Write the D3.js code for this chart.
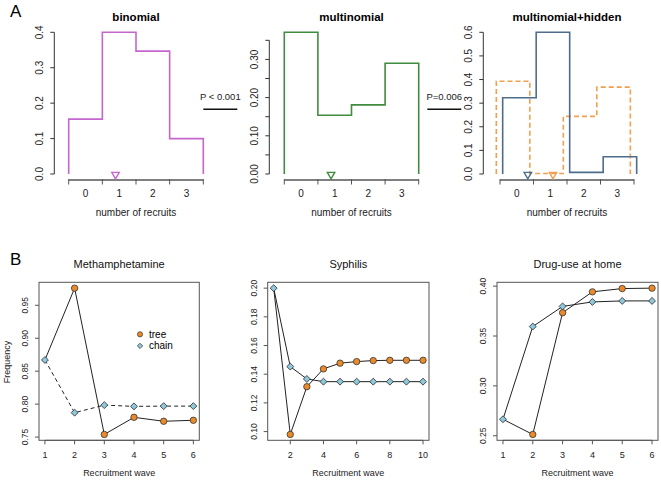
<!DOCTYPE html>
<html>
<head>
<meta charset="utf-8">
<script src="https://cdn.jsdelivr.net/npm/d3@7"></script>
<style>
  body { margin: 0; background: #fff; }
  svg { font-family: "Liberation Sans", Arial, sans-serif; }
</style>
</head>
<body>
<svg id="chart" width="661" height="480"></svg>
<script>
// ---- panel A data: distribution of number of recruits
const recruitBins = ['0', '1', '2', '3'];
const binomialFreq = [0.155, 0.400, 0.347, 0.100];
const multinomialFreq = [0.371, 0.154, 0.181, 0.290];
const hiddenSolidFreq = [0.323, 0.600, 0.007, 0.073];
const hiddenDashedFreq = [0.393, 0.002, 0.244, 0.368];
const binomialTicks = [0, 0.1, 0.2, 0.3, 0.4];
const multinomialTicks = [0, 0.05, 0.10, 0.15, 0.20, 0.25, 0.30, 0.35];
const hiddenTicks = [0, 0.1, 0.2, 0.3, 0.4, 0.5, 0.6];

// ---- panel B data: frequency by recruitment wave
const methWaves = [1, 2, 3, 4, 5, 6];
const methTree = [0.867, 0.976, 0.754, 0.780, 0.774, 0.7755];
const methChain = [0.867, 0.787, 0.7985, 0.7966, 0.797, 0.797];
const syphWaves = [1, 2, 3, 4, 5, 6, 7, 8, 9, 10];
const syphTree = [0.200, 0.098, 0.1313, 0.1437, 0.1477, 0.1488, 0.1495, 0.1497, 0.1497, 0.1497];
const syphChain = [0.200, 0.1453, 0.1367, 0.1348, 0.1348, 0.1348, 0.1348, 0.1348, 0.1348, 0.1348];
const drugWaves = [1, 2, 3, 4, 5, 6];
const drugTree = [0.2665, 0.2513, 0.3734, 0.3943, 0.3976, 0.398];
const drugChain = [0.2665, 0.3595, 0.3797, 0.3842, 0.3852, 0.3852];
const methYTicks = [0.75, 0.80, 0.85, 0.90, 0.95];
const syphYTicks = [0.10, 0.12, 0.14, 0.16, 0.18, 0.20];
const drugYTicks = [0.25, 0.30, 0.35, 0.40];
const syphXTicks = [2, 4, 6, 8, 10];

const svg = d3.select('#chart');

const colTree = '#e98b2b', colChain = '#8ec8dc';

// --------------------------------------------------
// panel A helpers

function histPanel(opt)
{
  let g = svg.append('g');
  let x = d3.scaleLinear().domain([0, recruitBins.length]).range([opt.x0, opt.x1]);
  let maxV = d3.max(opt.series, s => d3.max(s.values));
  let y = d3.scaleLinear().domain([0, maxV]).range([174, 32.3]);

  // y axis
  let yt = opt.ticks;
  g.append('line')
    .attr('x1', opt.yAxisX).attr('x2', opt.yAxisX)
    .attr('y1', y(yt[0])).attr('y2', y(yt[yt.length - 1]))
    .attr('stroke', '#333').attr('stroke-width', 1);
  yt.forEach((t, i) =>
  {
    g.append('line')
      .attr('x1', opt.yAxisX - 4).attr('x2', opt.yAxisX)
      .attr('y1', y(t)).attr('y2', y(t))
      .attr('stroke', '#333');
    if (opt.labelEvery && i % opt.labelEvery) return;
    g.append('text')
      .attr('transform', `translate(${opt.yAxisX - 11},${y(t)}) rotate(-90)`)
      .attr('text-anchor', 'middle')
      .attr('font-size', 10).attr('fill', '#222')
      .text(d3.format(opt.fmt)(t));
  });

  // x axis (gray)
  g.append('line')
    .attr('x1', x(0)).attr('x2', x(recruitBins.length))
    .attr('y1', 180).attr('y2', 180)
    .attr('stroke', '#808080').attr('stroke-width', 2);
  d3.range(recruitBins.length + 1).forEach(i =>
  {
    g.append('line')
      .attr('x1', x(i)).attr('x2', x(i))
      .attr('y1', 179).attr('y2', 184.5)
      .attr('stroke', '#555').attr('stroke-width', 1);
  });
  recruitBins.forEach((b, i) =>
  {
    g.append('text')
      .attr('x', x(i + 0.5)).attr('y', 196.5)
      .attr('text-anchor', 'middle')
      .attr('font-size', 10).attr('fill', '#222')
      .text(b);
  });

  // histogram outlines
  let line = d3.line().x(d => x(d[0])).y(d => y(d[1]));
  opt.series.forEach(s =>
  {
    let pts = [[s.offset, 0]];
    s.values.forEach((v, i) =>
    {
      pts.push([i + s.offset, v], [i + 1 + s.offset, v]);
    });
    pts.push([recruitBins.length + s.offset, 0]);
    g.append('path')
      .attr('d', line(pts))
      .attr('fill', 'none')
      .attr('stroke', s.color)
      .attr('stroke-width', 1.6)
      .attr('stroke-dasharray', s.dash || null);
  });

  // triangles at mean
  opt.series.forEach(s =>
  {
    let mean = d3.sum(s.values, (v, i) => v * i) / d3.sum(s.values);
    g.append('path')
      .attr('d', d3.symbol(d3.symbolTriangle, 24)())
      .attr('transform', `translate(${x(mean)},${y(0) + 0.5}) rotate(180)`)
      .attr('fill', 'none')
      .attr('stroke', s.color)
      .attr('stroke-width', 1.4);
  });

  g.append('text')
    .attr('x', (opt.x0 + opt.x1) / 2).attr('y', 20.5)
    .attr('text-anchor', 'middle')
    .attr('font-size', 11.5).attr('font-weight', 'bold')
    .text(opt.title);

  g.append('text')
    .attr('x', (opt.x0 + opt.x1) / 2).attr('y', 215.5)
    .attr('text-anchor', 'middle')
    .attr('font-size', 10).attr('fill', '#222')
    .text('number of recruits');
}

histPanel({
  title: 'binomial', x0: 68.7, x1: 203.3, yAxisX: 54.3,
  ticks: binomialTicks, fmt: '.1f',
  series: [{ values: binomialFreq, color: '#c566cf', offset: 0 }]
});

histPanel({
  title: 'multinomial', x0: 284.3, x1: 418.7, yAxisX: 269.3,
  ticks: multinomialTicks, fmt: '.2f', labelEvery: 2,
  series: [{ values: multinomialFreq, color: '#3f8c3f', offset: 0 }]
});

histPanel({
  title: 'multinomial+hidden', x0: 500, x1: 634, yAxisX: 483.3,
  ticks: hiddenTicks, fmt: '.1f',
  series: [
    { values: hiddenDashedFreq, color: '#f0a050', offset: -0.11, dash: '5,3' },
    { values: hiddenSolidFreq, color: '#4e6d8c', offset: 0.08 }
  ]
});

// p-values between panels
[['P < 0.001', 220.3, 203.3, 237.3], ['P=0.006', 444.3, 427.3, 461.3]]
.forEach(function (p)
{
  svg.append('text')
    .attr('x', p[1]).attr('y', 100)
    .attr('text-anchor', 'middle')
    .attr('font-size', 9.5).attr('fill', '#222')
    .text(p[0]);
  svg.append('line')
    .attr('x1', p[2]).attr('x2', p[3])
    .attr('y1', 109.3).attr('y2', 109.3)
    .attr('stroke', '#111').attr('stroke-width', 1.5);
});

// --------------------------------------------------
// panel B helpers

function padded(vals)
{
  let lo = d3.min(vals), hi = d3.max(vals), r = hi - lo;
  return [lo - 0.04 * r, hi + 0.04 * r];
}

function wavePanel(opt)
{
  let g = svg.append('g');
  let top = 282.3, bottom = 440.3;
  let x = d3.scaleLinear().domain(padded(opt.waves)).range([opt.x0, opt.x1]);
  let y = d3.scaleLinear().domain(padded(opt.tree.concat(opt.chain))).range([bottom, top]);

  g.append('rect')
    .attr('x', opt.x0).attr('y', top)
    .attr('width', opt.x1 - opt.x0).attr('height', bottom - top)
    .attr('fill', 'none').attr('stroke', '#555').attr('stroke-width', 1);

  // x axis
  let xt = opt.xTicks;
  g.append('line')
    .attr('x1', x(xt[0])).attr('x2', x(xt[xt.length - 1]))
    .attr('y1', bottom).attr('y2', bottom)
    .attr('stroke', '#555');
  xt.forEach(t =>
  {
    g.append('line')
      .attr('x1', x(t)).attr('x2', x(t))
      .attr('y1', bottom).attr('y2', bottom + 4)
      .attr('stroke', '#555');
    g.append('text')
      .attr('x', x(t)).attr('y', 458)
      .attr('text-anchor', 'middle')
      .attr('font-size', 9).attr('fill', '#222')
      .text(t);
  });

  // y axis
  opt.yTicks.forEach(t =>
  {
    g.append('line')
      .attr('x1', opt.x0 - 4).attr('x2', opt.x0)
      .attr('y1', y(t)).attr('y2', y(t))
      .attr('stroke', '#555');
    g.append('text')
      .attr('transform', `translate(${opt.x0 - 11},${y(t)}) rotate(-90)`)
      .attr('text-anchor', 'middle')
      .attr('font-size', 8.5).attr('fill', '#222')
      .text(d3.format('.2f')(t));
  });

  let line = d3.line().x((d, i) => x(opt.waves[i])).y(d => y(d));
  g.append('path')
    .attr('d', line(opt.tree))
    .attr('fill', 'none').attr('stroke', '#222').attr('stroke-width', 1);
  g.append('path')
    .attr('d', line(opt.chain))
    .attr('fill', 'none').attr('stroke', '#222').attr('stroke-width', 1)
    .attr('stroke-dasharray', opt.chainDash || null);

  // tree points (wave 1 sits under the chain diamond)
  opt.tree.forEach((v, i) =>
  {
    if (i === 0) return;
    g.append('circle')
      .attr('cx', x(opt.waves[i])).attr('cy', y(v)).attr('r', 3.2)
      .attr('fill', colTree).attr('stroke', '#333').attr('stroke-width', 0.8);
  });
  opt.chain.forEach((v, i) =>
  {
    g.append('path')
      .attr('d', d3.symbol(d3.symbolSquare, 24)())
      .attr('transform', `translate(${x(opt.waves[i])},${y(v)}) rotate(45)`)
      .attr('fill', colChain).attr('stroke', '#333').attr('stroke-width', 0.8);
  });

  g.append('text')
    .attr('x', (opt.x0 + opt.x1) / 2).attr('y', 267.5)
    .attr('text-anchor', 'middle')
    .attr('font-size', 11).attr('fill', '#111')
    .text(opt.title);
  g.append('text')
    .attr('x', (opt.x0 + opt.x1) / 2).attr('y', 476)
    .attr('text-anchor', 'middle')
    .attr('font-size', 9).attr('fill', '#222')
    .text('Recruitment wave');
}

wavePanel({
  title: 'Methamphetamine', x0: 39, x1: 199.3,
  waves: methWaves, tree: methTree, chain: methChain,
  xTicks: methWaves, yTicks: methYTicks, chainDash: '4,3'
});
wavePanel({
  title: 'Syphilis', x0: 267.7, x1: 429,
  waves: syphWaves, tree: syphTree, chain: syphChain,
  xTicks: syphXTicks, yTicks: syphYTicks
});
wavePanel({
  title: 'Drug-use at home', x0: 497, x1: 658,
  waves: drugWaves, tree: drugTree, chain: drugChain,
  xTicks: drugWaves, yTicks: drugYTicks
});

svg.append('text')
  .attr('transform', 'translate(10.3,362) rotate(-90)')
  .attr('text-anchor', 'middle')
  .attr('font-size', 9).attr('fill', '#222')
  .text('Frequency');

// legend
let legend = svg.append('g').attr('transform', 'translate(140,334.3)');
legend.append('circle').attr('r', 2.6)
  .attr('fill', colTree).attr('stroke', '#333').attr('stroke-width', 0.7);
legend.append('path')
  .attr('d', d3.symbol(d3.symbolSquare, 14)())
  .attr('transform', 'translate(0,11.6) rotate(45)')
  .attr('fill', colChain).attr('stroke', '#333').attr('stroke-width', 0.7);
legend.append('text').attr('x', 9).attr('y', 3.6).attr('font-size', 10).text('tree');
legend.append('text').attr('x', 9).attr('y', 15.2).attr('font-size', 10).text('chain');

// panel letters
svg.append('text').attr('x', 10).attr('y', 17.3).attr('font-size', 17).text('A');
svg.append('text').attr('x', 10).attr('y', 265).attr('font-size', 17).text('B');
</script>
</body>
</html>
